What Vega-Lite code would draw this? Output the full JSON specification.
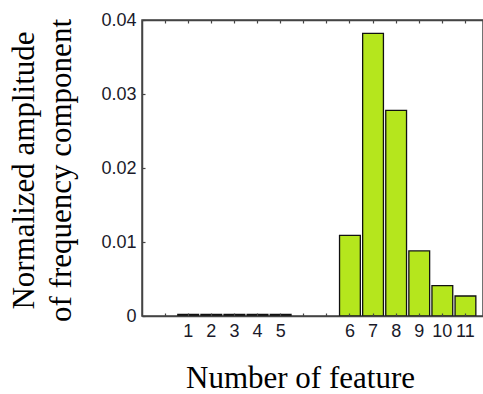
{
  "$schema": "https://vega.github.io/schema/vega-lite/v6.json",
  "autosize": {"type": "none"},
  "width": 341,
  "height": 296,
  "padding": {"left": 142, "top": 20, "right": 0, "bottom": 78},
  "background": "white",
  "config": {
    "view": {"stroke": "#444444", "strokeWidth": 1.5},
    "axis": {"grid": false}
  },
  "data": {
    "values": [
      {"feature": "1", "value": 0.0002},
      {"feature": "2", "value": 0.0002},
      {"feature": "3", "value": 0.0002},
      {"feature": "4", "value": 0.0002},
      {"feature": "5", "value": 0.0002},
      {"feature": "6", "value": 0.0109},
      {"feature": "7", "value": 0.0382},
      {"feature": "8", "value": 0.0278},
      {"feature": "9", "value": 0.0088},
      {"feature": "10", "value": 0.0041},
      {"feature": "11", "value": 0.0027}
    ]
  },
  "resolve": {"axis": {"x": "independent", "y": "independent"}},
  "layer": [
    {
      "mark": {"type": "bar", "fill": "#b5e61d", "stroke": "#111111", "strokeWidth": 1.3},
      "encoding": {
        "x": {
          "field": "feature",
          "type": "nominal",
          "sort": null,
          "scale": {
            "domain": [" ", "1", "2", "3", "4", "5", "  ", "   ", "6", "7", "8", "9", "10", "11"],
            "paddingInner": 0.1,
            "paddingOuter": 0.43,
            "align": 0.64,
            "round": false
          },
          "axis": {
            "orient": "bottom",
            "title": "Number of feature",
            "titleFont": "Liberation Serif",
            "titleFontSize": 31,
            "titleFontWeight": "normal",
            "titleColor": "#000000",
            "titleX": 158,
            "titleY": 71,
            "titleBaseline": "alphabetic",
            "titleAnchor": "middle",
            "labelAngle": 0,
            "labelFont": "Liberation Sans",
            "labelFontSize": 18,
            "labelColor": "#1a1a2a",
            "labelPadding": 9,
            "labelBaseline": "top",
            "bandPosition": 0.5,
            "ticks": true,
            "tickSize": -3,
            "tickColor": "#444444",
            "tickWidth": 1.2,
            "domainColor": "#444444",
            "domainWidth": 1.5,
            "zindex": 1
          }
        },
        "y": {
          "field": "value",
          "type": "quantitative",
          "scale": {"domain": [0, 0.04], "nice": false},
          "axis": {
            "orient": "left",
            "values": [0, 0.01, 0.02, 0.03, 0.04],
            "format": "~g",
            "title": ["Normalized amplitude", "of frequency component"],
            "titleFont": "Liberation Serif",
            "titleFontSize": 31,
            "titleFontWeight": "normal",
            "titleColor": "#000000",
            "titleLineHeight": 37,
            "titleAngle": -90,
            "titleX": -109,
            "titleY": 150,
            "titleBaseline": "alphabetic",
            "titleAlign": "center",
            "labelFont": "Liberation Sans",
            "labelFontSize": 18,
            "labelColor": "#1a1a2a",
            "labelPadding": 9,
            "tickSize": -3,
            "tickColor": "#444444",
            "tickWidth": 1.2,
            "domainColor": "#444444",
            "domainWidth": 1.5,
            "zindex": 1
          }
        }
      }
    },
    {
      "mark": {"type": "bar", "opacity": 0},
      "encoding": {
        "x": {
          "field": "feature",
          "type": "nominal",
          "sort": null,
          "axis": {
            "orient": "top",
            "title": null,
            "labels": false,
            "bandPosition": 0.5,
            "tickSize": -3,
            "tickColor": "#444444",
            "tickWidth": 1.2,
            "domainColor": "#444444",
            "domainWidth": 1.5,
            "zindex": 1
          }
        },
        "y": {
          "field": "value",
          "type": "quantitative",
          "axis": null
        }
      }
    }
  ]
}
